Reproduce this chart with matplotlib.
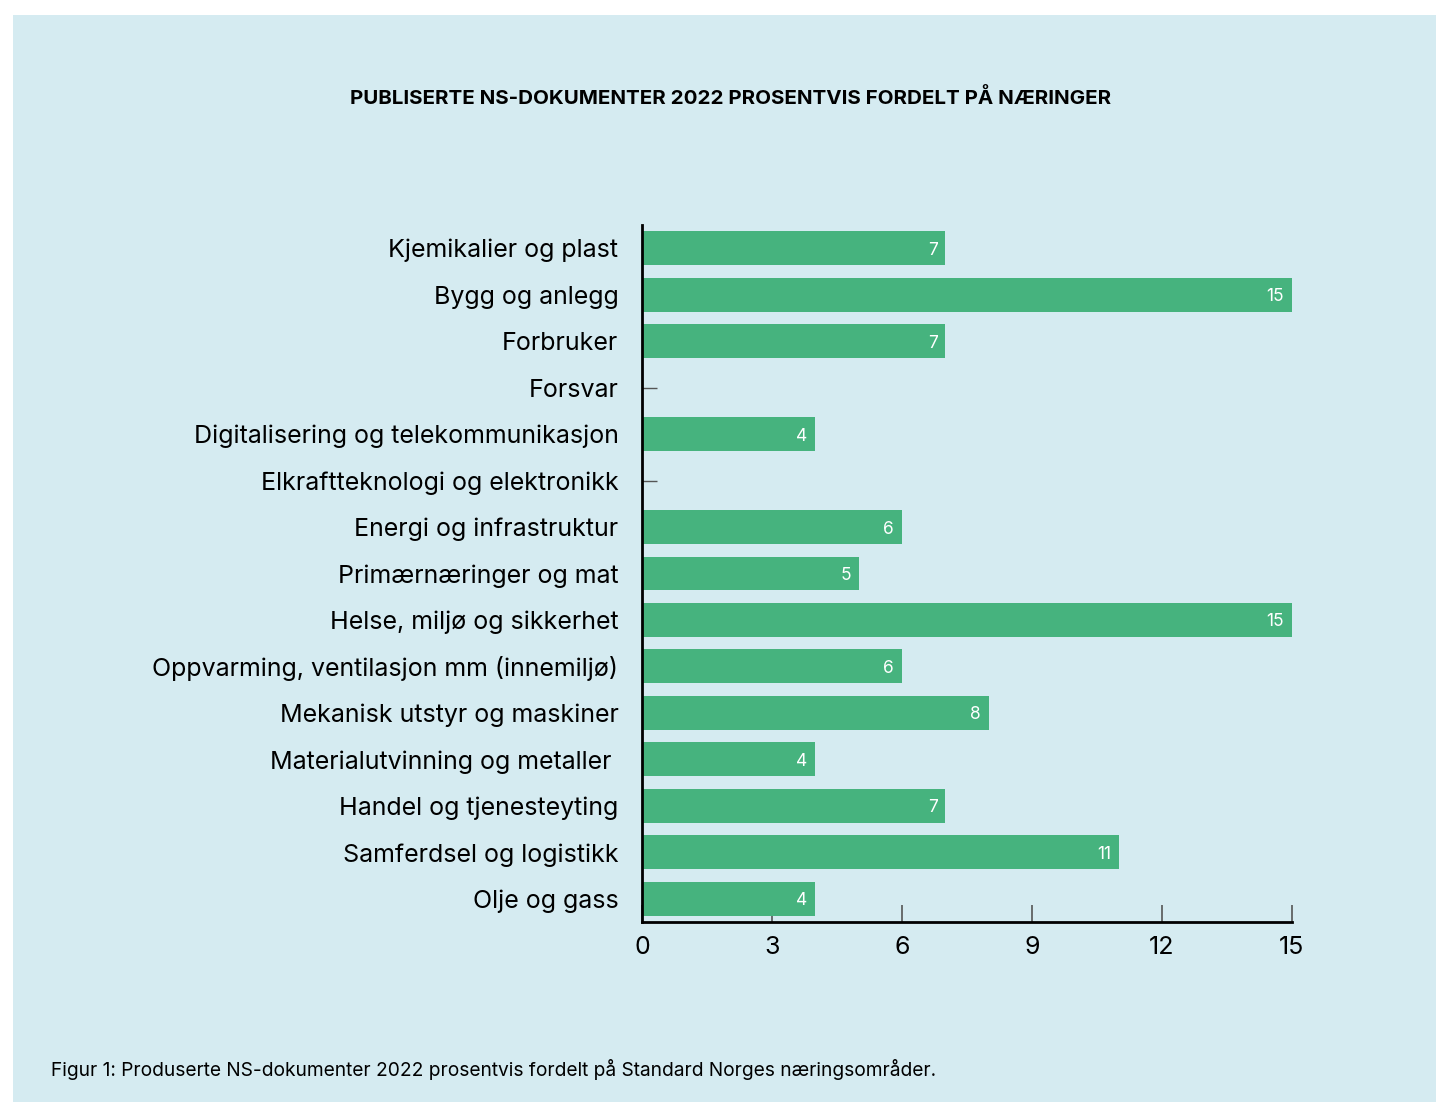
import matplotlib
matplotlib.use('Agg')
import matplotlib.pyplot as plt
from matplotlib.patches import Rectangle

plt.rcParams['font.family'] = ['Inter', 'DejaVu Sans']

categories = [
    'Kjemikalier og plast',
    'Bygg og anlegg',
    'Forbruker',
    'Forsvar',
    'Digitalisering og telekommunikasjon',
    'Elkraftteknologi og elektronikk',
    'Energi og infrastruktur',
    'Primærnæringer og mat',
    'Helse, miljø og sikkerhet',
    'Oppvarming, ventilasjon mm (innemiljø)',
    'Mekanisk utstyr og maskiner',
    'Materialutvinning og metaller ',
    'Handel og tjenesteyting',
    'Samferdsel og logistikk',
    'Olje og gass',
]
values = [7, 15, 7, 0, 4, 0, 6, 5, 15, 6, 8, 4, 7, 11, 4]
xticks = [0, 3, 6, 9, 12, 15]

title = 'PUBLISERTE NS-DOKUMENTER 2022 PROSENTVIS FORDELT PÅ NÆRINGER'
caption = 'Figur 1: Produserte NS-dokumenter 2022 prosentvis fordelt på Standard Norges næringsområder.'

BG = '#d5ebf1'
GREEN = '#46b37e'

W, H = 1436, 1102
fig = plt.figure(figsize=(W / 100, H / 100), dpi=100)
fig.patch.set_facecolor('white')
# light blue panel, white margin on top/left
fig.patches.append(Rectangle((13 / W, 0), 1 - 13 / W, 1 - 15 / H,
                             transform=fig.transFigure, facecolor=BG,
                             edgecolor='none', zorder=-10))

ax = fig.add_axes([642 / W, 1 - 922 / H, 650 / W, 697 / H])
ax.set_facecolor('none')

ypos = list(range(len(categories)))
ax.barh(ypos, values, height=0.73, color=GREEN, zorder=2)
for y, v in zip(ypos, values):
    if v > 0:
        ax.text(v - 0.18, y, str(v), color='white', fontsize=12.5,
                ha='right', va='center_baseline', zorder=3)

ax.set_xlim(0, 15)
ax.set_ylim(len(categories) - 0.5, -0.5)
ax.set_xticks(xticks)
ax.set_xticklabels([str(t) for t in xticks], fontsize=18)
ax.set_yticks(ypos)
ax.set_yticklabels(categories, fontsize=18)

ax.tick_params(axis='x', direction='in', length=12.5, width=1.2, color='#555555',
               pad=10)
ax.tick_params(axis='y', direction='in', length=11, width=1.0, color='#555555',
               pad=17)
for s in ['top', 'right']:
    ax.spines[s].set_visible(False)
ax.spines['left'].set_linewidth(2)
ax.spines['bottom'].set_linewidth(2)
ax.spines['left'].set_zorder(4)

fig.text(731 / W, 1 - 98 / H, title, fontsize=14.8, fontweight='bold',
         ha='center', va='center')
fig.text(51 / W, 1 - 1070 / H, caption, fontsize=13.8, ha='left', va='center')

fig.savefig('out.png', dpi=100, facecolor=fig.get_facecolor())
